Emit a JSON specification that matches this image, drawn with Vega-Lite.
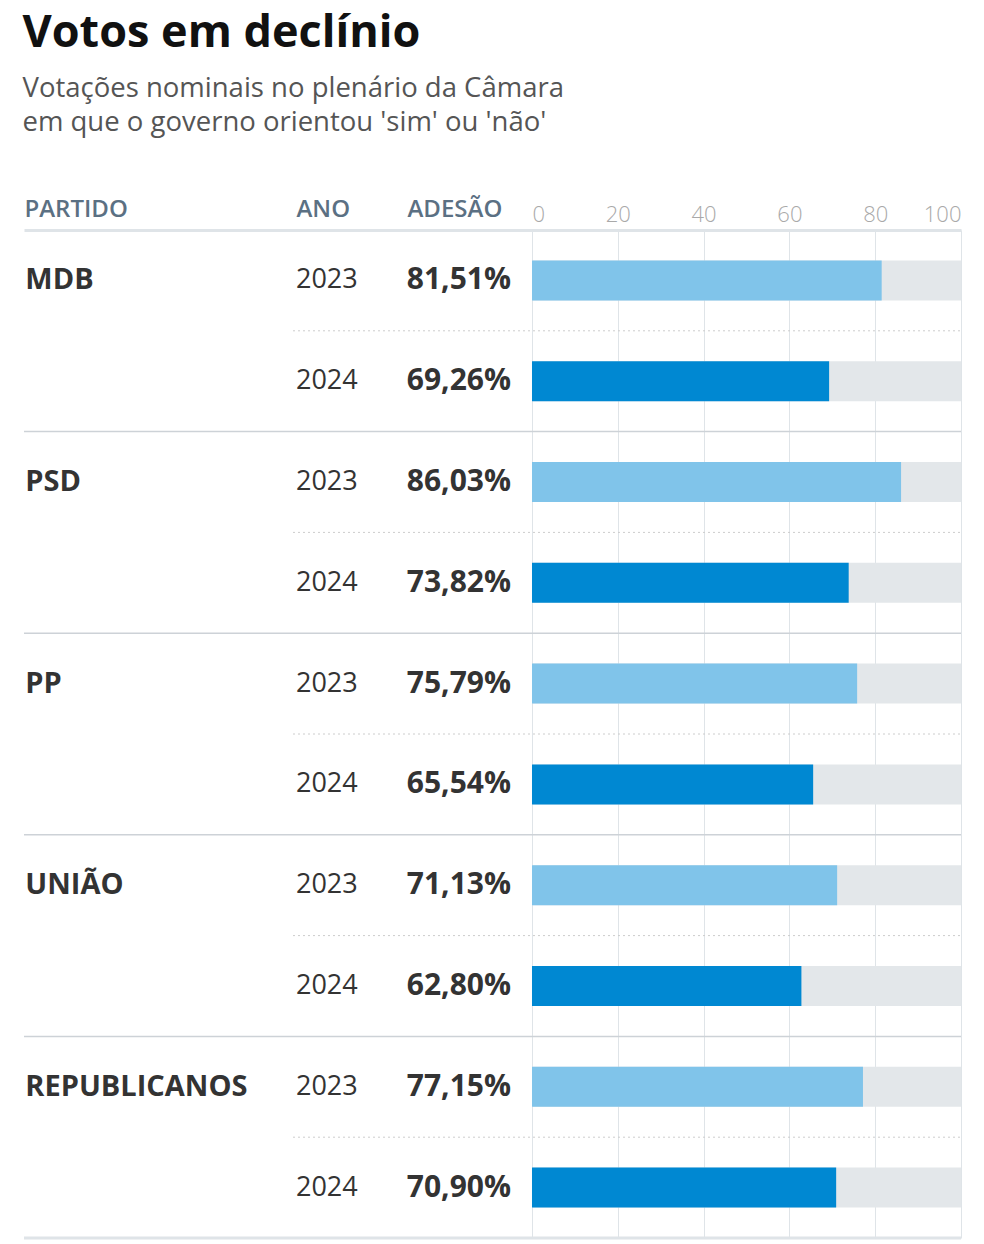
{
  "$schema": "https://vega.github.io/schema/vega-lite/v6.json",
  "width": 937,
  "height": 1008,
  "padding": {"left": 22, "top": 10, "right": 19, "bottom": 4},
  "autosize": {"type": "pad"},
  "title": {
    "text": "Votos em declínio",
    "subtitle": ["Votações nominais no plenário da Câmara", "em que o governo orientou 'sim' ou 'não'"],
    "anchor": "start",
    "font": "Open Sans",
    "fontSize": 45,
    "fontWeight": 700,
    "color": "#111111",
    "subtitleFont": "Open Sans",
    "subtitleFontSize": 27.5,
    "subtitleColor": "#555555",
    "subtitleLineHeight": 34,
    "subtitlePadding": 19,
    "offset": 61
  },
  "data": {
    "values": [
      {"partido": "MDB", "ano": 2023, "adesao": 81.51},
      {"partido": "MDB", "ano": 2024, "adesao": 69.26},
      {"partido": "PSD", "ano": 2023, "adesao": 86.03},
      {"partido": "PSD", "ano": 2024, "adesao": 73.82},
      {"partido": "PP", "ano": 2023, "adesao": 75.79},
      {"partido": "PP", "ano": 2024, "adesao": 65.54},
      {"partido": "UNIÃO", "ano": 2023, "adesao": 71.13},
      {"partido": "UNIÃO", "ano": 2024, "adesao": 62.80},
      {"partido": "REPUBLICANOS", "ano": 2023, "adesao": 77.15},
      {"partido": "REPUBLICANOS", "ano": 2024, "adesao": 70.90}
    ]
  },
  "encoding": {
    "y": {
      "field": "partido",
      "type": "nominal",
      "sort": ["MDB", "PSD", "PP", "UNIÃO", "REPUBLICANOS"],
      "scale": {"paddingInner": 0, "paddingOuter": 0},
      "axis": null
    }
  },
  "layer": [
    {
      "mark": {"type": "bar", "color": "#e3e7ea"},
      "encoding": {
        "x": {
          "datum": 0,
          "type": "quantitative",
          "scale": {"domain": [-118.41, 100], "nice": false, "zero": false},
          "axis": {
            "orient": "top",
            "title": null,
            "values": [-118.41, -55.01, -29.14, 0, 20, 40, 60, 80, 100],
            "labelExpr": "datum.value < -100 ? 'PARTIDO' : datum.value < -40 ? 'ANO' : datum.value < 0 ? 'ADESÃO' : datum.label",
            "labelFont": "Open Sans",
            "labelFontSize": {"condition": {"test": "datum.value < 0", "value": 24}, "value": 22},
            "labelFontWeight": {"condition": {"test": "datum.value < 0", "value": 600}, "value": 300},
            "labelColor": {"condition": {"test": "datum.value < 0", "value": "#5b7083"}, "value": "#a9a9a9"},
            "labelAlign": {"condition": [{"test": "datum.value <= 0", "value": "left"}, {"test": "datum.value >= 100", "value": "right"}], "value": "center"},
            "labelBaseline": {"condition": {"test": "datum.value < 0", "value": "bottom"}, "value": "alphabetic"},
            "labelPadding": 9,
            "labelBound": false,
            "labelOverlap": false,
            "ticks": false,
            "grid": true,
            "gridColor": "#dfe4e8",
            "gridWidth": 1,
            "gridOpacity": {"condition": {"test": "datum.value < 0", "value": 0}, "value": 1},
            "domainColor": "#dfe4e8",
            "domainWidth": 3
          }
        },
        "x2": {"datum": 100},
        "yOffset": {"field": "ano", "type": "ordinal", "scale": {"paddingInner": 0.603, "paddingOuter": 0.3016}}
      }
    },
    {
      "mark": {"type": "bar"},
      "encoding": {
        "x": {"field": "adesao", "type": "quantitative"},
        "x2": {"datum": 0},
        "yOffset": {"field": "ano", "type": "ordinal"},
        "color": {"field": "ano", "type": "ordinal", "scale": {"domain": [2023, 2024], "range": ["#80c4ea", "#0088d2"]}, "legend": null}
      }
    },
    {
      "transform": [{"filter": "datum.ano == 2024"}],
      "mark": {"type": "rule"},
      "encoding": {
        "y": {"field": "partido", "type": "nominal", "sort": ["MDB", "PSD", "PP", "UNIÃO", "REPUBLICANOS"], "bandPosition": 1},
        "strokeWidth": {"condition": {"test": "datum.partido == 'REPUBLICANOS'", "value": 3}, "value": 1.5},
        "color": {"condition": {"test": "datum.partido == 'REPUBLICANOS'", "value": "#dfe4e8"}, "value": "#cdd2d7"}
      }
    },
    {
      "transform": [{"filter": "datum.ano == 2023"}],
      "mark": {"type": "rule", "color": "#cccccc", "strokeWidth": 1, "strokeDash": [2, 3]},
      "encoding": {
        "y": {"field": "partido", "type": "nominal", "sort": ["MDB", "PSD", "PP", "UNIÃO", "REPUBLICANOS"], "bandPosition": 0.5},
        "x": {"datum": -55.71},
        "x2": {"datum": 100}
      }
    },
    {
      "transform": [{"filter": "datum.ano == 2023"}],
      "mark": {"type": "text", "align": "left", "baseline": "middle", "font": "Open Sans", "fontSize": 29, "fontWeight": 700, "color": "#333333"},
      "encoding": {
        "x": {"datum": -118.1},
        "yOffset": {"field": "ano", "type": "ordinal"},
        "text": {"field": "partido", "type": "nominal"}
      }
    },
    {
      "mark": {"type": "text", "align": "left", "baseline": "middle", "font": "Open Sans", "fontSize": 27, "fontWeight": 400, "color": "#333333"},
      "encoding": {
        "x": {"datum": -55.01},
        "yOffset": {"field": "ano", "type": "ordinal"},
        "text": {"field": "ano", "type": "nominal"}
      }
    },
    {
      "transform": [{"calculate": "replace(format(datum.adesao, '.2f'), '.', ',') + '%'", "as": "rotulo"}],
      "mark": {"type": "text", "align": "right", "baseline": "middle", "font": "Open Sans", "fontSize": 30, "fontWeight": 700, "color": "#333333"},
      "encoding": {
        "x": {"datum": -4.9},
        "yOffset": {"field": "ano", "type": "ordinal"},
        "text": {"field": "rotulo", "type": "nominal"}
      }
    }
  ],
  "config": {
    "view": {"stroke": null},
    "background": "#ffffff"
  }
}
